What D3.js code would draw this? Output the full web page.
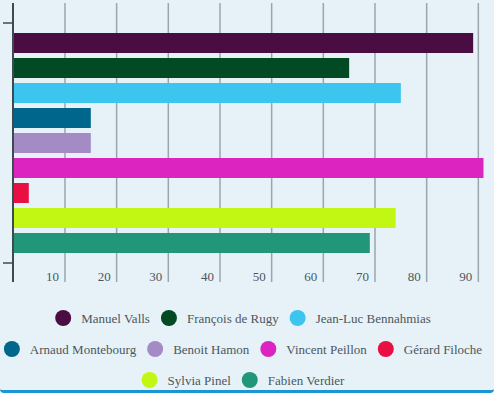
<!DOCTYPE html>
<html>
<head>
<meta charset="utf-8">
<script src="https://cdn.jsdelivr.net/npm/d3@7"></script>
<style>
  body { margin: 0; background: #fff; }
  #chart {
    width: 494px; height: 390px;
    background: #e6f2f8;
    border-bottom: 3px solid #1a96d4;
    border-radius: 0 0 4px 4px;
    overflow: hidden;
  }
</style>
</head>
<body>
<div id="chart"></div>
<script>
// candidates and their scores
var names = ["Manuel Valls", "François de Rugy", "Jean-Luc Bennahmias", "Arnaud Montebourg",
             "Benoit Hamon", "Vincent Peillon", "Gérard Filoche", "Sylvia Pinel", "Fabien Verdier"];
var values = [89, 65, 75, 15, 15, 91, 3, 74, 69];
var colors = ["#4a0d42", "#024a23", "#3cc5ee", "#01668c", "#a48bc6",
              "#dc25c0", "#ea0f43", "#c1f712", "#229678"];
var xTicks = [10, 20, 30, 40, 50, 60, 70, 80, 90];

var font = "Liberation Serif, DejaVu Serif";

var svg = d3.select("#chart").append("svg")
    .attr("width", 494)
    .attr("height", 390);

var x = d3.scaleLinear()
    .domain([0, d3.max(values)])
    .range([13.3, 483.5]);

var y = d3.scaleBand()
    .domain(names)
    .range([30.5, 255.5])
    .paddingInner(0.2)
    .paddingOuter(0.1);

// grid lines
svg.append("g").selectAll("line")
    .data(xTicks)
    .enter()
    .append("line")
    .attr("x1", function(d){return x(d)})
    .attr("x2", function(d){return x(d)})
    .attr("y1", 3)
    .attr("y2", 282)
    .attr("stroke", "#9aa6ad")
    .attr("stroke-width", 1.5);

// tick labels
svg.append("g").selectAll("text")
    .data(xTicks)
    .enter()
    .append("text")
    .attr("x", function(d){return x(d) - 6})
    .attr("y", 280.5)
    .attr("text-anchor", "end")
    .style("font-family", font)
    .style("font-size", "13px")
    .attr("fill", "#4d565c")
    .text(function(d){return d});

// bars
svg.append("g").selectAll("rect")
    .data(values)
    .enter()
    .append("rect")
    .attr("x", x(0))
    .attr("y", function(d, i){return y(names[i])})
    .attr("width", function(d){return x(d) - x(0)})
    .attr("height", y.bandwidth())
    .attr("fill", function(d, i){return colors[i]});

// y axis line with end ticks
svg.append("line")
    .attr("x1", 13).attr("x2", 13)
    .attr("y1", 3).attr("y2", 282)
    .attr("stroke", "#3e4a51")
    .attr("stroke-width", 2);
svg.append("g").selectAll("line")
    .data([y.range()[0] - 7.5, y.range()[1] + 7.5])
    .enter()
    .append("line")
    .attr("x1", 3).attr("x2", 13)
    .attr("y1", function(d){return d})
    .attr("y2", function(d){return d})
    .attr("stroke", "#3e4a51")
    .attr("stroke-width", 1.5);

// legend, wrapped in centred rows
var legend = svg.append("g");
var items = [];
names.forEach(function(name, i){
    var g = legend.append("g");
    g.append("circle")
        .attr("cx", 8)
        .attr("cy", 0)
        .attr("r", 8)
        .attr("fill", colors[i]);
    var t = g.append("text")
        .attr("x", 26)
        .attr("y", 4.5)
        .style("font-family", font)
        .style("font-size", "13px")
        .attr("fill", "#4d565c")
        .text(name);
    items.push({g: g, w: 26 + t.node().getComputedTextLength()});
});

var maxW = 484, gap = 11, rows = [[]], rowW = [0];
items.forEach(function(item){
    var r = rows.length - 1;
    var need = rows[r].length ? rowW[r] + gap + item.w : item.w;
    if (rows[r].length && need > maxW) {
        rows.push([item]);
        rowW.push(item.w);
    } else {
        rows[r].push(item);
        rowW[r] = need;
    }
});
rows.forEach(function(row, r){
    var cx = 243 - rowW[r] / 2;
    row.forEach(function(item){
        item.g.attr("transform", "translate(" + cx + "," + (318 + r * 31) + ")");
        cx += item.w + gap;
    });
});
</script>
</body>
</html>
